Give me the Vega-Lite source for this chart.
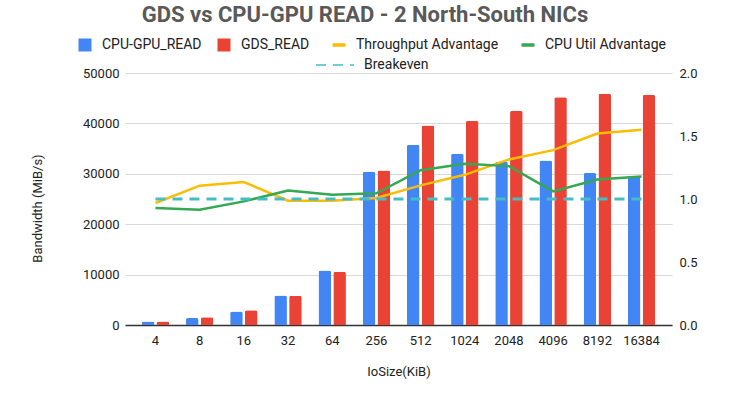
{
  "$schema": "https://vega.github.io/schema/vega-lite/v6.json",
  "width": 547,
  "height": 252,
  "autosize": {"type": "none"},
  "padding": {"left": 125, "top": 73, "right": 58, "bottom": 71},
  "background": "white",
  "config": {
    "font": "Roboto",
    "view": {"stroke": null},
    "axis": {"labelFont": "Roboto", "titleFont": "Roboto", "labelFontSize": 13, "titleFontSize": 13, "labelColor": "#222222", "titleColor": "#222222", "titleFontWeight": "normal"},
    "legend": {"labelFont": "Roboto", "labelFontSize": 14, "labelColor": "#222222"}
  },
  "title": {
    "text": "GDS vs CPU-GPU READ - 2 North-South NICs",
    "anchor": "middle",
    "frame": "group",
    "dx": -33.5,
    "fontSize": 22,
    "fontWeight": "bold",
    "color": "#595959",
    "font": "Roboto",
    "offset": 11
  },
  "data": {
    "values": [
      {"size": "4", "cpu": 700, "gds": 680, "thr": 0.968, "util": 0.929, "be": 1.0},
      {"size": "8", "cpu": 1380, "gds": 1540, "thr": 1.106, "util": 0.915, "be": 1.0},
      {"size": "16", "cpu": 2680, "gds": 2930, "thr": 1.134, "util": 0.981, "be": 1.0},
      {"size": "32", "cpu": 5870, "gds": 5820, "thr": 0.987, "util": 1.068, "be": 1.0},
      {"size": "64", "cpu": 10820, "gds": 10550, "thr": 0.987, "util": 1.034, "be": 1.0},
      {"size": "256", "cpu": 30400, "gds": 30660, "thr": 1.008, "util": 1.045, "be": 1.0},
      {"size": "512", "cpu": 35750, "gds": 39570, "thr": 1.108, "util": 1.229, "be": 1.0},
      {"size": "1024", "cpu": 33970, "gds": 40500, "thr": 1.192, "util": 1.28, "be": 1.0},
      {"size": "2048", "cpu": 32390, "gds": 42480, "thr": 1.314, "util": 1.261, "be": 1.0},
      {"size": "4096", "cpu": 32650, "gds": 45170, "thr": 1.388, "util": 1.06, "be": 1.0},
      {"size": "8192", "cpu": 30140, "gds": 45900, "thr": 1.52, "util": 1.155, "be": 1.0},
      {"size": "16384", "cpu": 29550, "gds": 45650, "thr": 1.55, "util": 1.178, "be": 1.0}
    ]
  },
  "encoding": {
    "x": {
      "field": "size",
      "type": "nominal",
      "sort": ["4", "8", "16", "32", "64", "256", "512", "1024", "2048", "4096", "8192", "16384"],
      "scale": {"paddingInner": 0.38, "paddingOuter": 0.38},
      "axis": {"title": "IoSize(KiB)", "labelAngle": 0, "ticks": false, "labelPadding": 9, "titlePadding": 18, "domainColor": "#333333", "domainWidth": 1.5}
    }
  },
  "layer": [
    {
      "transform": [
        {"calculate": "datum.cpu", "as": "CPU-GPU_READ"},
        {"calculate": "datum.gds", "as": "GDS_READ"},
        {"fold": ["CPU-GPU_READ", "GDS_READ"], "as": ["series", "value"]}
      ],
      "mark": {"type": "bar", "cornerRadiusTopLeft": 2, "cornerRadiusTopRight": 2},
      "encoding": {
        "xOffset": {"field": "series", "type": "nominal", "scale": {"paddingInner": 0.15}},
        "y": {
          "field": "value",
          "type": "quantitative",
          "scale": {"domain": [0, 50000]},
          "axis": {"title": "Bandwidth (MiB/s)", "values": [0, 10000, 20000, 30000, 40000, 50000], "format": "d", "ticks": false, "domain": false, "labelPadding": 6, "titlePadding": 38, "titleY": 135, "gridColor": "#d9d9d9"}
        },
        "color": {
          "field": "series",
          "type": "nominal",
          "scale": {
            "domain": ["CPU-GPU_READ", "GDS_READ", "Throughput Advantage", "CPU Util Advantage"],
            "range": ["#4285F4", "#EA4335", "#FBBC04", "#34A853"]
          },
          "legend": {
            "title": null,
            "orient": "none",
            "direction": "horizontal",
            "legendX": -47,
            "legendY": -35,
            "symbolSize": 169,
            "labelOffset": 10,
            "columnPadding": 15,
            "encode": {
              "symbols": {
                "update": {
                  "shape": {"signal": "datum.value === 'CPU-GPU_READ' || datum.value === 'GDS_READ' ? 'square' : 'stroke'"},
                  "fill": {"scale": "color", "field": "value"},
                  "stroke": {"scale": "color", "field": "value"},
                  "strokeWidth": {"signal": "datum.value === 'CPU-GPU_READ' || datum.value === 'GDS_READ' ? 0 : 3.5"},
                  "opacity": {"value": 1}
                }
              }
            }
          }
        }
      }
    },
    {
      "layer": [
        {
          "transform": [
            {"calculate": "datum.thr", "as": "Throughput Advantage"},
            {"calculate": "datum.util", "as": "CPU Util Advantage"},
            {"fold": ["Throughput Advantage", "CPU Util Advantage"], "as": ["series", "value"]}
          ],
          "mark": {"type": "line", "strokeWidth": 2.5},
          "encoding": {
            "y": {
              "field": "value",
              "type": "quantitative",
              "scale": {"domain": [0, 2]},
              "axis": {"orient": "right", "title": null, "values": [0, 0.5, 1, 1.5, 2], "format": ".1f", "ticks": false, "domain": false, "grid": false, "labelPadding": 7}
            },
            "color": {"field": "series", "type": "nominal"}
          }
        },
        {
          "transform": [{"calculate": "'Breakeven'", "as": "bl"}],
          "mark": {"type": "line", "strokeWidth": 3, "color": "#46BDC6"},
          "encoding": {
            "y": {"field": "be", "type": "quantitative"},
            "strokeDash": {
              "field": "bl",
              "type": "nominal",
              "scale": {"domain": ["Breakeven"], "range": [[10, 7]]},
              "legend": {
                "title": null,
                "orient": "none",
                "legendX": 190,
                "legendY": -28,
                "symbolSize": 1444,
                "labelOffset": 9,
                "encode": {
                  "symbols": {
                    "update": {
                      "shape": {"value": "stroke"},
                      "stroke": {"value": "#46BDC6"},
                      "strokeWidth": {"value": 3.5},
                      "strokeDash": {"value": [12, 13]},
                      "opacity": {"value": 1}
                    }
                  }
                }
              }
            }
          }
        }
      ]
    }
  ],
  "resolve": {"scale": {"y": "independent"}}
}
